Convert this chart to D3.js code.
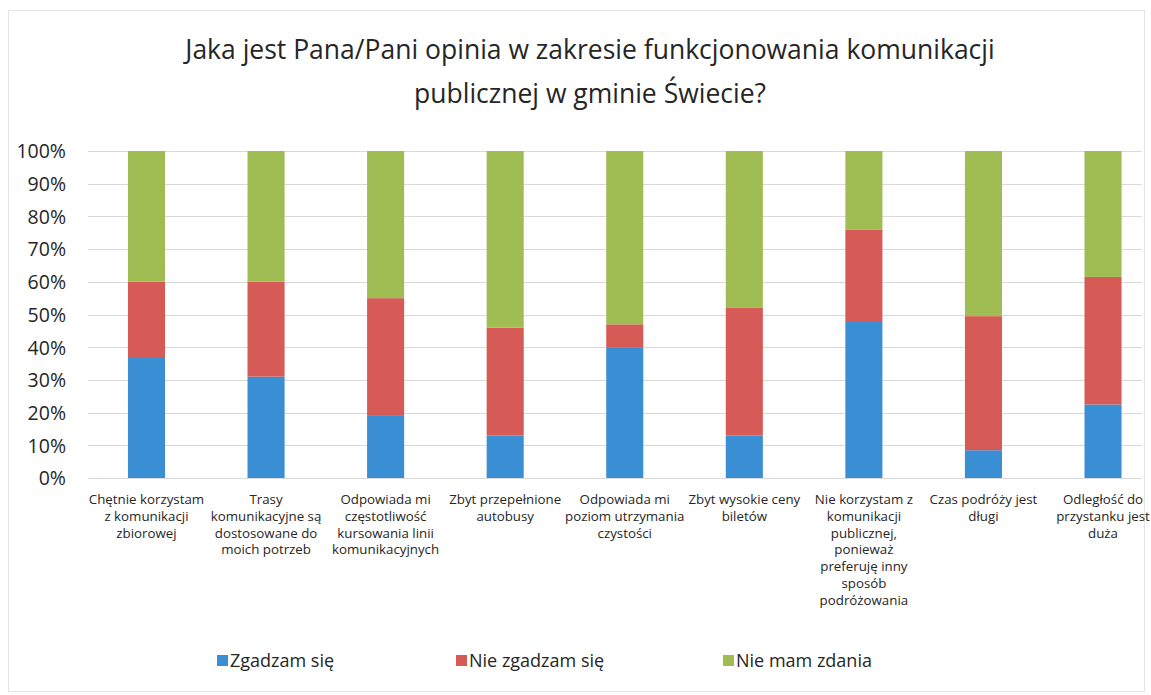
<!DOCTYPE html>
<html>
<head>
<meta charset="utf-8">
<script src="https://cdn.jsdelivr.net/npm/d3@7"></script>
<style>
  body { margin: 0; background: #fff; }
  svg { font-family: "Open Sans", sans-serif; }
</style>
</head>
<body>
<div id="chart"></div>
<script>
// data (percent)
var categories = [
    ["Chętnie korzystam", "z komunikacji", "zbiorowej"],
    ["Trasy", "komunikacyjne są", "dostosowane do", "moich potrzeb"],
    ["Odpowiada mi", "częstotliwość", "kursowania linii", "komunikacyjnych"],
    ["Zbyt przepełnione", "autobusy"],
    ["Odpowiada mi", "poziom utrzymania", "czystości"],
    ["Zbyt wysokie ceny", "biletów"],
    ["Nie korzystam z", "komunikacji", "publicznej,", "ponieważ", "preferuję inny", "sposób", "podróżowania"],
    ["Czas podróży jest", "długi"],
    ["Odległość do", "przystanku jest", "duża"]
];
var seriesNames = ["Zgadzam się", "Nie zgadzam się", "Nie mam zdania"];
var agree    = [37, 31, 19, 13, 40, 13, 48, 8.5, 22.5];
var disagree = [23, 29, 36, 33, 7, 39, 28, 41, 39];
var noOpinion = [40, 40, 45, 54, 53, 48, 24, 50.5, 38.5];
var tickValues = [0, 0.1, 0.2, 0.3, 0.4, 0.5, 0.6, 0.7, 0.8, 0.9, 1];
var colors = ["#3a8fd4", "#d65a56", "#9fbd52"];

function base(){
    var W = 1151, H = 695;
    var svg = d3.select("#chart").append("svg")
        .attr("width", W).attr("height", H);

    // faint frame of the chart area
    svg.append("rect")
        .attr("x", 8.5).attr("y", 10.5)
        .attr("width", 1136).attr("height", 681)
        .attr("fill", "none").attr("stroke", "#e4e4e4");

    // title
    var title = svg.append("text")
        .attr("text-anchor", "middle")
        .attr("font-size", 26.5)
        .attr("fill", "#262626");
    title.append("tspan").attr("x", 590).attr("y", 59)
        .text("Jaka jest Pana/Pani opinia w zakresie funkcjonowania komunikacji");
    title.append("tspan").attr("x", 590).attr("y", 103)
        .text("publicznej w gminie Świecie?");

    var top = 151, bottom = 478;
    var x = d3.scaleBand()
        .domain(d3.range(categories.length))
        .range([86.7, 1162.8])
        .paddingInner(0.69)
        .paddingOuter(0.345);
    var y = d3.scaleLinear().domain([0, 1]).range([bottom, top]);

    // gridlines
    svg.append("g").selectAll("line")
        .data(tickValues)
        .enter().append("line")
        .attr("x1", 88).attr("x2", 1142)
        .attr("y1", function(d){ return Math.round(y(d)) + 0.5; })
        .attr("y2", function(d){ return Math.round(y(d)) + 0.5; })
        .attr("stroke", "#d9d9d9");

    // y axis labels
    var yAxis = d3.axisLeft(y)
        .tickValues(tickValues)
        .tickFormat(d3.format(".0%"))
        .tickSize(0).tickPadding(0);
    var gy = svg.append("g")
        .attr("transform", "translate(66,0)")
        .call(yAxis);
    gy.select(".domain").remove();
    gy.selectAll("text")
        .attr("font-size", 19.5)
        .attr("font-family", "Open Sans, sans-serif")
        .attr("fill", "#262626")
        .attr("dy", "0.35em");

    // stacked bars
    var rows = categories.map(function(c, i){
        return { i: i, a: agree[i], b: disagree[i], c: noOpinion[i] };
    });
    var stack = d3.stack().keys(["a", "b", "c"])
        .offset(d3.stackOffsetExpand);
    var layers = stack(rows);

    svg.append("g").selectAll("g")
        .data(layers)
        .enter().append("g")
        .attr("fill", function(d, i){ return colors[i]; })
        .selectAll("rect")
        .data(function(d){ return d; })
        .enter().append("rect")
        .attr("x", function(d){ return x(d.data.i); })
        .attr("width", x.bandwidth())
        .attr("y", function(d){ return y(d[1]); })
        .attr("height", function(d){ return y(d[0]) - y(d[1]); });

    // category labels
    var lab = svg.append("g").selectAll("text")
        .data(categories)
        .enter().append("text")
        .attr("text-anchor", "middle")
        .attr("font-size", 13.3)
        .attr("fill", "#262626");
    lab.selectAll("tspan")
        .data(function(d, i){ return d.map(function(s){ return { s: s, i: i }; }); })
        .enter().append("tspan")
        .attr("x", function(d){ return x(d.i) + x.bandwidth() / 2; })
        .attr("y", function(d, j){ return 504 + j * 16.8; })
        .text(function(d){ return d.s; });

    // legend
    var legendX = [217, 456, 723];
    var lg = svg.append("g").selectAll("g")
        .data(seriesNames)
        .enter().append("g")
        .attr("transform", function(d, i){ return "translate(" + legendX[i] + ",660)"; });
    lg.append("rect")
        .attr("x", 0).attr("y", -5).attr("width", 11).attr("height", 11)
        .attr("fill", function(d, i){ return colors[i]; });
    lg.append("text")
        .attr("x", 13).attr("y", 7)
        .attr("font-size", 18)
        .attr("fill", "#262626")
        .text(function(d){ return d; });
}

window.onload = base;
</script>
</body>
</html>
